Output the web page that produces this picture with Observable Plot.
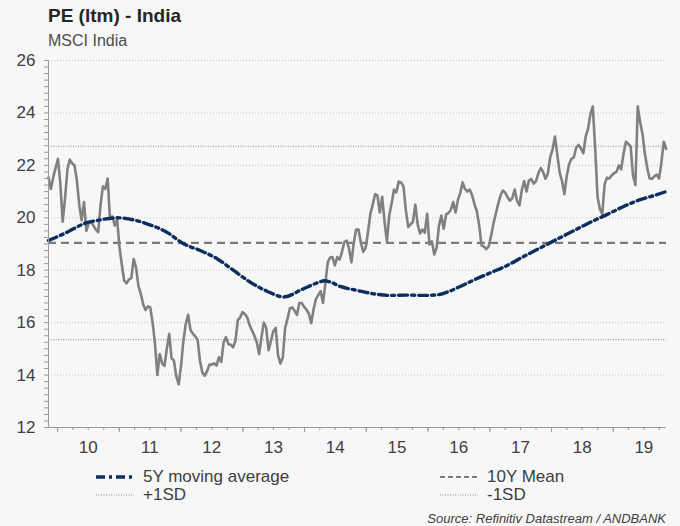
<!DOCTYPE html>
<html><head><meta charset="utf-8">
<script src="https://cdn.jsdelivr.net/npm/d3@7"></script>
<script src="https://cdn.jsdelivr.net/npm/@observablehq/plot@0.6"></script>
<style>
html,body{margin:0;padding:0;background:#f7f7f7;}
#wrap{position:relative;width:680px;height:526px;font-family:"Liberation Sans",Arial,sans-serif;overflow:hidden;background:#f7f7f7;}
.t{position:absolute;white-space:nowrap;line-height:1;}
.lg{position:absolute;display:flex;align-items:center;white-space:nowrap;font-size:17px;line-height:1;color:#404040;}
.lg svg{margin-right:9px;}
</style></head><body><div id="wrap">
<div class="t" style="left:48px;top:6px;font-size:19px;font-weight:bold;color:#262626">PE (ltm) - India</div>
<div class="t" style="left:48px;top:33px;font-size:16px;color:#4d4d4d">MSCI India</div>
<div id="chart" style="position:absolute;left:0;top:50px"></div>
<div id="legend"></div>
<div class="t" style="right:14px;top:512px;font-size:13px;font-style:italic;color:#404040">Source: Refinitiv Datastream / ANDBANK</div>
</div>
<script>
// PE (ltm) MSCI India, biweekly readings starting 2009-11-08
const peStart = "2009-11-08";
const peStepDays = 14;
const peValues = [
21.55,21.1,21.55,21.9,22.25,21.3,19.85,20.75,21.85,22.22,
22.07,22.0,21.42,20.5,19.9,20.6,19.5,19.8,19.85,19.7,
19.55,19.45,20.5,21.2,21.1,21.5,19.95,20.05,19.7,19.95,
18.88,18.2,17.6,17.5,17.65,17.7,18.43,18.1,17.4,17.1,
16.7,16.48,16.62,16.58,16.0,15.2,14.0,14.8,14.45,14.35,
15.0,15.57,14.65,14.55,13.95,13.65,14.35,15.3,15.95,16.3,
15.72,15.58,15.48,15.35,14.55,14.1,13.98,14.15,14.4,14.4,
14.45,14.36,14.68,14.5,15.25,15.45,15.18,15.16,15.06,15.3,
16.1,16.2,16.4,16.33,16.2,15.9,15.7,15.5,15.25,14.8,
15.45,16.0,15.8,14.95,15.3,15.67,15.8,14.75,14.44,14.67,
15.8,16.15,16.55,16.58,16.45,16.3,16.75,16.75,16.6,16.5,
16.35,15.98,16.5,16.9,17.05,17.2,16.75,17.5,18.3,18.48,
18.5,18.18,18.5,18.4,18.7,19.08,19.13,18.82,18.3,19.05,
19.55,19.55,19.05,18.7,18.85,19.45,20.15,20.5,20.9,20.85,
20.2,20.8,19.85,19.1,20.1,20.55,21.08,20.97,21.38,21.35,
21.2,20.3,19.65,19.75,19.85,20.5,19.75,19.4,19.55,19.43,
20.15,18.98,19.1,18.6,18.85,19.7,20.08,19.58,20.13,20.18,
20.3,20.6,20.2,20.68,20.95,21.35,21.1,21.0,21.08,20.86,
20.52,20.25,19.7,18.95,18.9,18.8,18.9,19.3,19.77,20.15,
20.52,20.85,21.04,20.96,20.78,20.65,20.75,21.08,20.64,20.47,
21.05,21.4,21.0,21.42,21.48,21.3,21.4,21.7,21.9,21.75,
21.49,21.68,22.31,22.6,23.1,22.4,21.72,21.4,20.9,21.6,
22.05,22.25,22.31,22.68,22.78,22.65,22.46,23.1,23.4,23.95,
24.25,22.65,20.8,20.33,20.15,21.28,21.53,21.5,21.62,21.7,
21.75,22.0,21.85,22.45,22.9,22.82,22.72,21.6,21.25,24.25,
23.65,23.2,22.45,21.9,21.5,21.48,21.58,21.65,21.5,22.12,
22.9,22.63
];

// 5Y moving average
const maDates = ["2009-11-08","2010-02-26","2010-06-04","2010-09-10","2010-12-18","2011-03-26","2011-06-13","2011-10-09","2012-01-16","2012-04-24","2012-08-01","2012-11-07","2013-02-14","2013-05-24","2013-08-31","2013-12-18","2014-03-27","2014-04-28","2014-06-02","2014-07-31","2014-11-07","2015-02-13","2015-05-22","2015-08-29","2015-12-05","2016-02-23","2016-04-22","2016-07-09","2016-09-26","2017-01-04","2017-04-13","2017-07-19","2017-10-26","2018-02-02","2018-05-11","2018-08-18","2018-11-24","2019-03-03","2019-06-09","2019-09-16","2019-11-10"];
const maValues = [19.13,19.45,19.77,19.92,20.0,19.92,19.77,19.45,19.01,18.75,18.44,17.99,17.54,17.2,16.98,17.27,17.54,17.6,17.55,17.38,17.23,17.1,17.04,17.05,17.04,17.06,17.16,17.38,17.62,17.9,18.18,18.52,18.85,19.18,19.5,19.83,20.12,20.43,20.69,20.88,21.0];

// Reference levels
const mean10Y = 19.04;
const plus1SD = 22.73;
const minus1SD = 15.35;

// Axes
const yTicks = [12,14,16,18,20,22,24,26];
const yGrid = [14,16,18,20,22,24,26];
const yMinorStep = 0.25;
const xYears = [2010,2011,2012,2013,2014,2015,2016,2017,2018,2019];
const xDomain = ["2009-11-08","2019-11-12"];

// Legend
const legendLabels = ["5Y moving average","10Y Mean","+1SD","-1SD"];

const parse = d3.utcParse("%Y-%m-%d");
const start = parse(peStart);
const pe = peValues.map((v,i)=>({date: d3.utcDay.offset(start, i*peStepDays), value: v}));
const ma = maDates.map((d,i)=>({date: parse(d), value: maValues[i]}));

const yMinor = d3.range(12, 26.001, yMinorStep);
const yearStarts = xYears.map(y=>new Date(Date.UTC(y,0,1)));
const quarters = d3.utcMonth.every(3).range(parse(xDomain[0]), parse(xDomain[1]));
const mids = xYears.map(y=>new Date(Date.UTC(y,6,1)));

const axisColor = "#9a9a9a";
const textColor = "#404040";

const chart = Plot.plot({
  width: 680, height: 410,
  marginTop: 10, marginBottom: 33, marginLeft: 48, marginRight: 14,
  style: {background: "transparent", fontFamily: "Liberation Sans, Arial, sans-serif", fontSize: "17px", overflow: "visible"},
  x: {type: "utc", domain: xDomain.map(parse), label: null},
  y: {domain: [12, 26], label: null},
  marks: [
    Plot.gridY({ticks: yGrid, stroke: "#c4c4c4", strokeOpacity: 1, strokeDasharray: "1,2"}),
    Plot.ruleY([plus1SD, minus1SD], {stroke: "#8c8c8c", strokeWidth: 1, strokeDasharray: "1,1.5"}),
    Plot.ruleY([mean10Y], {stroke: "#7a7a7a", strokeWidth: 2.2, strokeDasharray: "8,5"}),
    Plot.line(pe, {x: "date", y: "value", stroke: "#808080", strokeWidth: 2.6, strokeLinejoin: "round"}),
    Plot.line(ma, {x: "date", y: "value", stroke: "#0c2f5e", strokeWidth: 3.4, strokeDasharray: "9,4,3,4", curve: "monotone-x"}),
    Plot.axisY({ticks: yMinor, tickSize: 4, fill: "none", stroke: axisColor, label: null}),
    Plot.axisY({ticks: yTicks, tickSize: 0, tickPadding: 13, fill: textColor, fontSize: 17, label: null}),
    Plot.axisX({ticks: quarters, tickSize: 3, fill: "none", stroke: axisColor, label: null}),
    Plot.axisX({ticks: yearStarts, tickSize: 5, fill: "none", stroke: axisColor, label: null}),
    Plot.axisX({ticks: mids, tickSize: 0, tickPadding: 13, tickFormat: d3.utcFormat("%y"), fill: textColor, fontSize: 17, label: null}),
    Plot.ruleY([12], {stroke: axisColor, strokeWidth: 1}),
    Plot.ruleX([parse(xDomain[0])], {stroke: axisColor, strokeWidth: 1})
  ]
});
document.getElementById("chart").appendChild(chart);

// legend
const styles = [
  {stroke: "#0c2f5e", width: 3.4, dash: "9,4,3,4"},
  {stroke: "#7a7a7a", width: 2, dash: "5,3"},
  {stroke: "#8c8c8c", width: 1, dash: "1,1.5"},
  {stroke: "#8c8c8c", width: 1, dash: "1,1.5"}
];
const pos = [[96,468],[440,468],[96,486],[440,486]];
const lg = document.getElementById("legend");
legendLabels.forEach((lab,i)=>{
  const div = document.createElement("div");
  div.className = "lg";
  div.style.left = pos[i][0] + "px";
  div.style.top = pos[i][1] + "px";
  div.style.height = "17px";
  const s = styles[i];
  div.innerHTML = `<svg width="38" height="8"><line x1="0" x2="38" y1="4" y2="4" stroke="${s.stroke}" stroke-width="${s.width}" stroke-dasharray="${s.dash}"/></svg><span>${lab}</span>`;
  lg.appendChild(div);
});
</script>
</body></html>
